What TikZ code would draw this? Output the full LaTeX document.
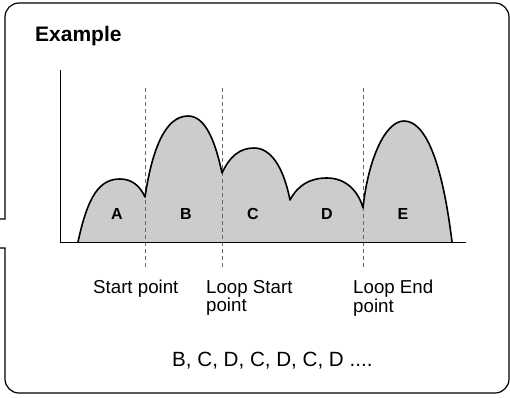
\documentclass[tikz,border=0pt]{standalone}
\usepackage{fontspec}
\setmainfont{Liberation Sans}
\begin{document}
\begin{tikzpicture}[x=1pt,y=-1pt,
  frame/.style={line width=1.2pt,black},
  axis/.style={line width=1pt,black},
  wave/.style={line width=1.6pt,black,line join=round},
  marker/.style={line width=1pt,gray!80!black,dash pattern=on 4pt off 3pt},
  seg/.style={font=\bfseries\fontsize{16}{16}\selectfont,inner sep=0pt},
  lab/.style={font=\fontsize{18.7}{16.5}\selectfont,align=left,anchor=north west,inner sep=0pt},
]
\useasboundingbox (0,0) rectangle (510,397);
% frame with gap on left side
\draw[frame] (0,248) -- (5,248) -- (5,300) [rounded corners=14pt] -- (5,393) -- (509,393) -- (509,3) -- (5,3) -- (5,100) [sharp corners] -- (5,219) -- (0,219);
\node[font=\bfseries\fontsize{21}{21}\selectfont,anchor=base west,inner sep=0pt] (title) at (35,41) {Example};
% waveform fill
\fill[gray!40] (78,242) .. controls (88,195) and (100,179) .. (120,179) .. controls (132,179) and (140,186) .. (145,197)
  .. controls (152,150) and (165,116) .. (188,116) .. controls (205,116) and (215,140) .. (222,173)
  .. controls (230,156) and (240,148) .. (254,148) .. controls (270,148) and (283,165) .. (290,200)
  .. controls (298,185) and (310,178) .. (327,178) .. controls (345,178) and (358,190) .. (363,208)
  .. controls (368,160) and (385,121) .. (404,121) .. controls (425,121) and (442,160) .. (452,242) -- cycle;
% markers
\coordinate (m1t) at (145,88); \coordinate (m1b) at (145,270);
\coordinate (m2t) at (222,88); \coordinate (m2b) at (222,270);
\coordinate (m3t) at (363,88); \coordinate (m3b) at (363,270);
\draw[marker] (m1t) -- (m1b);
\draw[marker] (m2t) -- (m2b);
\draw[marker] (m3t) -- (m3b);
% waveform outline
\draw[wave] (78,242) .. controls (88,195) and (100,179) .. (120,179) .. controls (132,179) and (140,186) .. (145,197)
  .. controls (152,150) and (165,116) .. (188,116) .. controls (205,116) and (215,140) .. (222,173)
  .. controls (230,156) and (240,148) .. (254,148) .. controls (270,148) and (283,165) .. (290,200)
  .. controls (298,185) and (310,178) .. (327,178) .. controls (345,178) and (358,190) .. (363,208)
  .. controls (368,160) and (385,121) .. (404,121) .. controls (425,121) and (442,160) .. (452,242);
% axes
\coordinate (ytop) at (60,70); \coordinate (orig) at (60,242); \coordinate (xend) at (466,242);
\draw[axis] (ytop) -- (orig) -- (xend);
% segment labels
\node[seg] (A) at (117,214) {A};
\node[seg] (B) at (186,214) {B};
\node[seg] (C) at (253,214) {C};
\node[seg] (D) at (327,214) {D};
\node[seg] (E) at (403,214) {E};
% point labels
\node[lab] (sp) at (93,280) {Start point};
\node[lab] (lsp) at (206,280) {Loop Start\\point};
\node[lab] (lep) at (353,280) {Loop End\\point};
\node[font=\fontsize{20.6}{20.6}\selectfont,anchor=base west,inner sep=0pt] (seq) at (172,366) {B, C, D, C, D, C, D ....};
\end{tikzpicture}
\end{document}
